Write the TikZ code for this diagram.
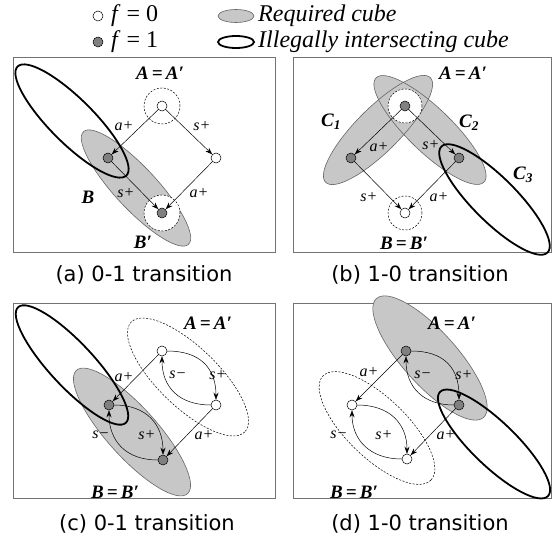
\documentclass[tikz,border=0pt]{standalone}
\usepackage{fontspec}
\setmainfont{Liberation Serif}
\newfontfamily\capfont{DejaVu Sans}
\usetikzlibrary{arrows.meta}
\tikzset{
  vzero/.style={circle,draw,line width=0.5pt,fill=white,inner sep=0pt,minimum size=10pt},
  vone/.style={circle,draw,line width=0.5pt,fill=black!50,inner sep=0pt,minimum size=10pt},
  halo/.style={circle,draw,dashed,dash pattern=on 2pt off 1.5pt,line width=0.5pt,fill=white,inner sep=0pt,minimum size=36pt},
  req/.style={fill=black!22,draw=black!60,line width=0.6pt},
  illegal/.style={draw=black,line width=1.8pt},
  dcube/.style={draw=black,dashed,dash pattern=on 2pt off 1.5pt,line width=0.5pt},
  frame/.style={draw=black!55,line width=0.7pt},
  edgelbl/.style={font=\fontsize{16}{16}\selectfont\itshape,inner sep=0pt},
  biglbl/.style={font=\fontsize{19}{19}\selectfont\bfseries\itshape,inner sep=0pt},
  legtxt/.style={font=\fontsize{24}{24}\selectfont,anchor=west,inner sep=0pt},
  caption/.style={font=\capfont\fontsize{21}{21}\selectfont,inner sep=0pt},
  arr/.style={-{Stealth[length=7pt,width=5pt]},line width=0.5pt},
}
\begin{document}
\begin{tikzpicture}[x=1pt,y=-1pt]
\useasboundingbox (0,0) rectangle (552,540);
% ---------------- legend
\node[vzero] (lg0) at (98,16) {};
\node[legtxt] (lg0t) at (111,16) {\textit{f} = 0};
\node[vone] (lg1) at (98,42) {};
\node[legtxt] (lg1t) at (111,42) {\textit{f} = 1};
\draw[req] (236,16) ellipse [x radius=18, y radius=6.5];
\node[legtxt] (lgr) at (258,16) {\itshape Required cube};
\draw[line width=1.8pt] (236,42) ellipse [x radius=18, y radius=6];
\node[legtxt] (lgi) at (258,42) {\itshape Illegally intersecting cube};
% ---------------- frames and captions
\draw[frame] (13,57) rectangle (275,252);
\draw[frame] (293,57) rectangle (551,252);
\draw[frame] (13,303) rectangle (275,498);
\draw[frame] (293,303) rectangle (551,498);
\node[caption] (capa) at (144,275) {(a) 0-1 transition};
\node[caption] (capb) at (420,275) {(b) 1-0 transition};
\node[caption] (capc) at (147,524) {(c) 0-1 transition};
\node[caption] (capd) at (420,524) {(d) 1-0 transition};
% ================= panel (a)
\draw[req,rotate around={-47:(136,188)}] (136,188) ellipse [x radius=77, y radius=21];
\draw[illegal,rotate around={-45:(72,121)}] (72,121) ellipse [x radius=77, y radius=22];
\node[halo] (ha) at (162,106) {};
\node[halo] (hb) at (162,213) {};
\node[vzero] (aA) at (162,106) {};
\node[vzero] (aR) at (216,158) {};
\node[vone] (aB) at (108,158) {};
\node[vone] (aB2) at (162,213) {};
\draw[arr] (aA) -- (aB);
\draw[arr] (aA) -- (aR);
\draw[arr] (aB) -- (aB2);
\draw[arr] (aR) -- (aB2);
\node[biglbl] (aAl) at (160,73) {A\,=\,A′};
\node[biglbl] (aBl) at (88,197) {B};
\node[biglbl] (aB2l) at (143,242) {B′};
\node[edgelbl] at (124,126) {a+};
\node[edgelbl] at (202,126) {s+};
\node[edgelbl] at (126,193) {s+};
\node[edgelbl] at (199,193) {a+};
% ================= panel (b)
\fill[black!22,rotate around={45:(378,130)}] (378,130) ellipse [x radius=74, y radius=22];
\fill[black!22,rotate around={-44:(430,130)}] (430,130) ellipse [x radius=75, y radius=22];
\draw[draw=black!60,line width=0.6pt,rotate around={45:(378,130)}] (378,130) ellipse [x radius=74, y radius=22];
\draw[draw=black!60,line width=0.6pt,rotate around={-44:(430,130)}] (430,130) ellipse [x radius=75, y radius=22];
\node[halo,minimum size=34pt] (hbA) at (405,106) {};
\node[halo,minimum size=34pt] (hbB) at (405,213) {};
\node[vone] (bA) at (405,106) {};
\node[vone] (bL) at (351,158) {};
\node[vone] (bR) at (459,158) {};
\node[vzero] (bB) at (405,213) {};
\draw[illegal,rotate around={-45:(494.5,199.5)}] (494.5,199.5) ellipse [x radius=75, y radius=22];
\draw[arr] (bA) -- (bL);
\draw[arr] (bA) -- (bR);
\draw[arr] (bL) -- (bB);
\draw[arr] (bR) -- (bB);
\node[biglbl] (bAl) at (463,73) {A\,=\,A′};
\node[biglbl] (bC1) at (331,122) {C\textsubscript{1}};
\node[biglbl] (bC2) at (469,123) {C\textsubscript{2}};
\node[biglbl] (bC3) at (523,175) {C\textsubscript{3}};
\node[biglbl] (bBl) at (404,243) {B\,=\,B′};
\node[edgelbl] at (379,147) {a+};
\node[edgelbl] at (431,145) {s+};
\node[edgelbl] at (369,197) {s+};
\node[edgelbl] at (439,197) {a+};
% ================= panel (c)
\draw[dcube,rotate around={-44:(188,377)}] (188,377) ellipse [x radius=79, y radius=30];
\draw[req,rotate around={-48:(132,432)}] (132,432) ellipse [x radius=83, y radius=25];
\draw[illegal,rotate around={-47:(72,365)}] (72,365) ellipse [x radius=79, y radius=22];
\node[vzero] (cA) at (162,351) {};
\node[vzero] (cR) at (216,405) {};
\node[vone] (cB) at (109,405) {};
\node[vone] (cB2) at (163,460) {};
\draw[arr] (cA) -- (cB);
\draw[arr] (cR) -- (cB2);
\draw[arr] (cA.east) .. controls (200,351) and (216,368) .. (cR.north);
\draw[arr] (cR.west) .. controls (180,405) and (162,388) .. (cA.south);
\draw[arr] (cB.east) .. controls (147,405) and (163,425) .. (cB2.north);
\draw[arr] (cB2.west) .. controls (125,460) and (109,440) .. (cB.south);
\node[biglbl] (cAl) at (208,323) {A\,=\,A′};
\node[biglbl] (cBl) at (115,492) {B\,=\,B′};
\node[edgelbl] at (124,377) {a+};
\node[edgelbl] at (178,375) {s−};
\node[edgelbl] at (218,375) {s+};
\node[edgelbl] at (101,435) {s−};
\node[edgelbl] at (147,435) {s+};
\node[edgelbl] at (204,435) {a+};
% ================= panel (d)
\draw[req,rotate around={-48:(430,358)}] (430,358) ellipse [x radius=80, y radius=27];
\draw[dcube,rotate around={-44:(377,428)}] (377,428) ellipse [x radius=75, y radius=30];
\node[vone] (dA) at (406,351) {};
\node[vone] (dR) at (459,405) {};
\node[vzero] (dL) at (352,405) {};
\node[vzero] (dB) at (407,459) {};
\draw[illegal,rotate around={-44:(494,444)}] (494,444) ellipse [x radius=75, y radius=22];
\draw[arr] (dA) -- (dL);
\draw[arr] (dR) -- (dB);
\draw[arr] (dA.east) .. controls (444,351) and (459,368) .. (dR.north);
\draw[arr] (dR.west) .. controls (424,405) and (406,388) .. (dA.south);
\draw[arr] (dL.east) .. controls (390,405) and (407,424) .. (dB.north);
\draw[arr] (dB.west) .. controls (370,459) and (352,440) .. (dL.south);
\node[biglbl] (dAl) at (452,323) {A\,=\,A′};
\node[biglbl] (dBl) at (354,492) {B\,=\,B′};
\node[edgelbl] at (369,372) {a+};
\node[edgelbl] at (423,375) {s−};
\node[edgelbl] at (464,375) {s+};
\node[edgelbl] at (339,435) {s−};
\node[edgelbl] at (384,435) {s+};
\node[edgelbl] at (446,435) {a+};
\end{tikzpicture}
\end{document}
